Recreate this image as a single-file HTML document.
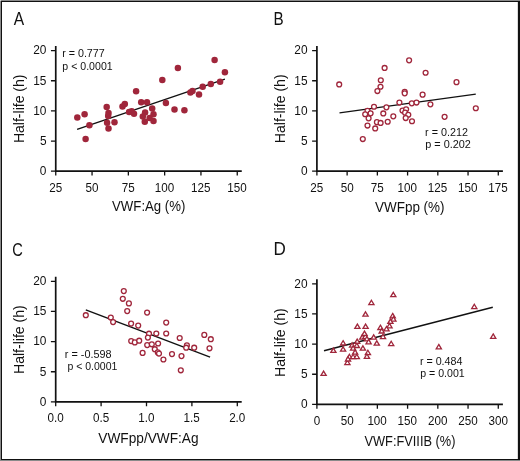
<!DOCTYPE html>
<html><head><meta charset="utf-8"><title>Half-life correlations</title>
<style>html,body{margin:0;padding:0;background:#fff;}body{width:520px;height:461px;overflow:hidden;}svg{display:block;will-change:transform;font-family:"Liberation Sans", sans-serif;}</style>
</head><body>
<svg width="520" height="461" viewBox="0 0 520 461">
<rect x="0" y="0" width="520" height="461" fill="#fff"/>
<g fill="#111"><text transform="matrix(0.86 0 0 1 13.7 24.5)" font-size="18.12">A</text><path d="M55.75 46V171.2H241.75" fill="none" stroke="#111" stroke-width="1.7"/><text transform="matrix(0.96 0 0 1 39.76 175)" font-size="12.4">0</text><text transform="matrix(0.96 0 0 1 39.88 144.85)" font-size="12.4">5</text><text transform="matrix(0.96 0 0 1 33.21 114.7)" font-size="12.4">10</text><text transform="matrix(0.96 0 0 1 33.21 84.55)" font-size="12.4">15</text><text transform="matrix(0.96 0 0 1 33.21 54.4)" font-size="12.4">20</text><text transform="matrix(0.94 0 0 1 49.22 191.7)" font-size="12.4">25</text><text transform="matrix(0.94 0 0 1 85.58 191.7)" font-size="12.4">50</text><text transform="matrix(0.94 0 0 1 121.82 191.7)" font-size="12.4">75</text><text transform="matrix(0.94 0 0 1 154.68 191.7)" font-size="12.4">100</text><text transform="matrix(0.94 0 0 1 190.98 191.7)" font-size="12.4">125</text><text transform="matrix(0.94 0 0 1 227.28 191.7)" font-size="12.4">150</text><path d="M50.95 171.2H55.75M50.95 141.05H55.75M50.95 110.9H55.75M50.95 80.75H55.75M50.95 50.6H55.75M55.75 171.2V175.6M92.05 171.2V175.6M128.35 171.2V175.6M164.65 171.2V175.6M200.95 171.2V175.6M237.25 171.2V175.6" fill="none" stroke="#111" stroke-width="1.3"/><text transform="matrix(0.93 0 0 1 112.07 211.4)" font-size="14.2">VWF:Ag (%)</text><text transform="matrix(0 -0.97 1 0 23.5 143.03)" font-size="14.45">Half-life (h)</text><text transform="matrix(0.95 0 0 1 62.15 56.5)" font-size="11.29">r = 0.777</text><text transform="matrix(0.95 0 0 1 62.36 69.5)" font-size="11.14">p &lt; 0.0001</text><line x1="77.1" y1="129.4" x2="224.9" y2="79.1" stroke="#111" stroke-width="1.4" stroke-linecap="butt"/></g>
<g fill="#111"><text transform="matrix(0.84 0 0 1 273.58 24.5)" font-size="18.12">B</text><path d="M316.9 46V171.2H502.9" fill="none" stroke="#111" stroke-width="1.7"/><text transform="matrix(0.96 0 0 1 300.91 175)" font-size="12.4">0</text><text transform="matrix(0.96 0 0 1 301.03 144.85)" font-size="12.4">5</text><text transform="matrix(0.96 0 0 1 294.36 114.7)" font-size="12.4">10</text><text transform="matrix(0.96 0 0 1 294.36 84.55)" font-size="12.4">15</text><text transform="matrix(0.96 0 0 1 294.36 54.4)" font-size="12.4">20</text><text transform="matrix(0.94 0 0 1 310.37 191.7)" font-size="12.4">25</text><text transform="matrix(0.94 0 0 1 340.66 191.7)" font-size="12.4">50</text><text transform="matrix(0.94 0 0 1 370.83 191.7)" font-size="12.4">75</text><text transform="matrix(0.94 0 0 1 397.62 191.7)" font-size="12.4">100</text><text transform="matrix(0.94 0 0 1 427.85 191.7)" font-size="12.4">125</text><text transform="matrix(0.94 0 0 1 458.08 191.7)" font-size="12.4">150</text><text transform="matrix(0.94 0 0 1 488.31 191.7)" font-size="12.4">175</text><path d="M312.1 171.2H316.9M312.1 141.05H316.9M312.1 110.9H316.9M312.1 80.75H316.9M312.1 50.6H316.9M316.9 171.2V175.6M347.13 171.2V175.6M377.36 171.2V175.6M407.59 171.2V175.6M437.82 171.2V175.6M468.05 171.2V175.6M498.28 171.2V175.6" fill="none" stroke="#111" stroke-width="1.3"/><text transform="matrix(0.93 0 0 1 374.97 211.5)" font-size="14.49">VWFpp (%)</text><text transform="matrix(0 -0.98 1 0 284.7 143.23)" font-size="14.38">Half-life (h)</text><text transform="matrix(0.98 0 0 1 425.09 135.9)" font-size="11">r = 0.212</text><text transform="matrix(1 0 0 1 425.24 147.6)" font-size="10.86">p = 0.202</text><line x1="339.5" y1="112.8" x2="475.8" y2="94.2" stroke="#111" stroke-width="1.25" stroke-linecap="butt"/></g>
<g fill="#111"><text transform="matrix(0.8 0 0 1 12.27 255.8)" font-size="18.29">C</text><path d="M55.7 276.7V401.9H241.7" fill="none" stroke="#111" stroke-width="1.7"/><text transform="matrix(0.96 0 0 1 39.71 405.7)" font-size="12.4">0</text><text transform="matrix(0.96 0 0 1 39.83 375.55)" font-size="12.4">5</text><text transform="matrix(0.96 0 0 1 33.16 345.4)" font-size="12.4">10</text><text transform="matrix(0.96 0 0 1 33.16 315.25)" font-size="12.4">15</text><text transform="matrix(0.96 0 0 1 33.16 285.1)" font-size="12.4">20</text><text transform="matrix(0.94 0 0 1 47.6 422.4)" font-size="12.4">0.0</text><text transform="matrix(0.94 0 0 1 93 422.4)" font-size="12.4">0.5</text><text transform="matrix(0.94 0 0 1 138.17 422.4)" font-size="12.4">1.0</text><text transform="matrix(0.94 0 0 1 183.57 422.4)" font-size="12.4">1.5</text><text transform="matrix(0.94 0 0 1 229.14 422.4)" font-size="12.4">2.0</text><path d="M50.9 401.9H55.7M50.9 371.75H55.7M50.9 341.6H55.7M50.9 311.45H55.7M50.9 281.3H55.7M55.7 401.9V406.3M101.1 401.9V406.3M146.5 401.9V406.3M191.9 401.9V406.3M237.3 401.9V406.3" fill="none" stroke="#111" stroke-width="1.3"/><text transform="matrix(0.96 0 0 1 98.36 442.7)" font-size="14.25">VWFpp/VWF:Ag</text><text transform="matrix(0 -0.98 1 0 23.5 374.03)" font-size="14.38">Half-life (h)</text><text transform="matrix(0.94 0 0 1 64.84 357.6)" font-size="11.57">r = -0.598</text><text transform="matrix(0.92 0 0 1 67.46 370)" font-size="11.43">p &lt; 0.0001</text><line x1="85.8" y1="309.9" x2="210.1" y2="357.1" stroke="#111" stroke-width="1.4" stroke-linecap="butt"/></g>
<g fill="#111"><text transform="matrix(0.95 0 0 1 273.43 255.4)" font-size="17.97">D</text><path d="M316.9 279.2V404.4H502.9" fill="none" stroke="#111" stroke-width="1.7"/><text transform="matrix(0.96 0 0 1 300.91 408.2)" font-size="12.4">0</text><text transform="matrix(0.96 0 0 1 301.03 378.05)" font-size="12.4">5</text><text transform="matrix(0.96 0 0 1 294.36 347.9)" font-size="12.4">10</text><text transform="matrix(0.96 0 0 1 294.36 317.75)" font-size="12.4">15</text><text transform="matrix(0.96 0 0 1 294.36 287.6)" font-size="12.4">20</text><text transform="matrix(0.94 0 0 1 313.64 424.9)" font-size="12.4">0</text><text transform="matrix(0.94 0 0 1 340.66 424.9)" font-size="12.4">50</text><text transform="matrix(0.94 0 0 1 367.39 424.9)" font-size="12.4">100</text><text transform="matrix(0.94 0 0 1 397.62 424.9)" font-size="12.4">150</text><text transform="matrix(0.94 0 0 1 428.03 424.9)" font-size="12.4">200</text><text transform="matrix(0.94 0 0 1 458.26 424.9)" font-size="12.4">250</text><text transform="matrix(0.94 0 0 1 488.55 424.9)" font-size="12.4">300</text><path d="M312.1 404.4H316.9M312.1 374.25H316.9M312.1 344.1H316.9M312.1 313.95H316.9M312.1 283.8H316.9M316.9 404.4V408.8M347.13 404.4V408.8M377.36 404.4V408.8M407.59 404.4V408.8M437.82 404.4V408.8M468.05 404.4V408.8M498.28 404.4V408.8" fill="none" stroke="#111" stroke-width="1.3"/><text transform="matrix(0.85 0 0 1 364.47 445.7)" font-size="15.07">VWF:FVIIIB (%)</text><text transform="matrix(0 -0.98 1 0 284.7 377.03)" font-size="14.38">Half-life (h)</text><text transform="matrix(1 0 0 1 419.9 364.8)" font-size="10.71">r = 0.484</text><text transform="matrix(1.03 0 0 1 420.26 376.8)" font-size="10.29">p = 0.001</text><line x1="324" y1="350.7" x2="492.8" y2="307.3" stroke="#111" stroke-width="1.4" stroke-linecap="butt"/></g>
<g fill="#a0263b"><circle cx="77.3" cy="117.5" r="3.25"/><circle cx="84.6" cy="114.3" r="3.25"/><circle cx="89.4" cy="125.2" r="3.25"/><circle cx="85.6" cy="139.1" r="3.25"/><circle cx="106.7" cy="106.9" r="3.25"/><circle cx="108.5" cy="112.9" r="3.25"/><circle cx="108.2" cy="116" r="3.25"/><circle cx="107.1" cy="122.7" r="3.25"/><circle cx="108.5" cy="128.5" r="3.25"/><circle cx="114.5" cy="122.3" r="3.25"/><circle cx="122.5" cy="106.5" r="3.25"/><circle cx="124.8" cy="104" r="3.25"/><circle cx="129.1" cy="112.1" r="3.25"/><circle cx="131.7" cy="111.2" r="3.25"/><circle cx="134" cy="113.8" r="3.25"/><circle cx="136.1" cy="91.3" r="3.25"/><circle cx="141.2" cy="102.3" r="3.25"/><circle cx="147" cy="102.3" r="3.25"/><circle cx="152.2" cy="108.5" r="3.25"/><circle cx="145.1" cy="112.4" r="3.25"/><circle cx="142.8" cy="116.6" r="3.25"/><circle cx="153.5" cy="114.3" r="3.25"/><circle cx="149.6" cy="117.9" r="3.25"/><circle cx="144.8" cy="121.8" r="3.25"/><circle cx="153.5" cy="121.1" r="3.25"/><circle cx="165.9" cy="102.9" r="3.25"/><circle cx="174.5" cy="109.6" r="3.25"/><circle cx="184.4" cy="110.2" r="3.25"/><circle cx="162.3" cy="80" r="3.25"/><circle cx="177.9" cy="67.9" r="3.25"/><circle cx="190.4" cy="92.5" r="3.25"/><circle cx="192.5" cy="91" r="3.25"/><circle cx="199" cy="94.5" r="3.25"/><circle cx="202.7" cy="86.7" r="3.25"/><circle cx="210.8" cy="84" r="3.25"/><circle cx="220.1" cy="81.7" r="3.25"/><circle cx="214.6" cy="60" r="3.25"/><circle cx="224.9" cy="72.2" r="3.25"/></g>
<g fill="#fff" stroke="#a0263b" stroke-width="1.3"><circle cx="339.2" cy="84.45" r="2.45"/><circle cx="384.6" cy="67.95" r="2.45"/><circle cx="380.8" cy="80.25" r="2.45"/><circle cx="380.5" cy="86.75" r="2.45"/><circle cx="377.4" cy="91.05" r="2.45"/><circle cx="374" cy="106.75" r="2.45"/><circle cx="386.4" cy="107.35" r="2.45"/><circle cx="399.4" cy="102.55" r="2.45"/><circle cx="411.8" cy="103.35" r="2.45"/><circle cx="416.5" cy="102.55" r="2.45"/><circle cx="367.5" cy="110.85" r="2.45"/><circle cx="365.2" cy="114.25" r="2.45"/><circle cx="370.6" cy="113.35" r="2.45"/><circle cx="368.6" cy="118.35" r="2.45"/><circle cx="383.3" cy="113.45" r="2.45"/><circle cx="393.3" cy="116.35" r="2.45"/><circle cx="402.5" cy="110.55" r="2.45"/><circle cx="406.1" cy="109.25" r="2.45"/><circle cx="405.1" cy="112.65" r="2.45"/><circle cx="408.3" cy="114.75" r="2.45"/><circle cx="405.7" cy="118.05" r="2.45"/><circle cx="412" cy="121.25" r="2.45"/><circle cx="376.9" cy="122.15" r="2.45"/><circle cx="380.6" cy="122.95" r="2.45"/><circle cx="387.7" cy="121.75" r="2.45"/><circle cx="367.5" cy="125.55" r="2.45"/><circle cx="375.2" cy="128.45" r="2.45"/><circle cx="362.8" cy="139.05" r="2.45"/><circle cx="409.1" cy="60.35" r="2.45"/><circle cx="425.6" cy="72.75" r="2.45"/><circle cx="456.5" cy="82.15" r="2.45"/><circle cx="404.7" cy="91.75" r="2.45"/><circle cx="404.7" cy="93.35" r="2.45"/><circle cx="422.6" cy="94.65" r="2.45"/><circle cx="430.4" cy="104.35" r="2.45"/><circle cx="444.6" cy="116.85" r="2.45"/><circle cx="475.8" cy="108.25" r="2.45"/></g>
<g fill="#fff" stroke="#a0263b" stroke-width="1.3"><circle cx="123.8" cy="291.1" r="2.45"/><circle cx="122.8" cy="298.8" r="2.45"/><circle cx="128.9" cy="303.4" r="2.45"/><circle cx="127.2" cy="311.1" r="2.45"/><circle cx="85.8" cy="315.2" r="2.45"/><circle cx="110.8" cy="317.5" r="2.45"/><circle cx="113.1" cy="322.1" r="2.45"/><circle cx="131.1" cy="323.6" r="2.45"/><circle cx="138.2" cy="325.6" r="2.45"/><circle cx="147.1" cy="312.6" r="2.45"/><circle cx="166.2" cy="322.6" r="2.45"/><circle cx="149" cy="333.7" r="2.45"/><circle cx="156.3" cy="333.5" r="2.45"/><circle cx="166.2" cy="333.5" r="2.45"/><circle cx="147.9" cy="337.6" r="2.45"/><circle cx="131.2" cy="341.1" r="2.45"/><circle cx="134.8" cy="342.4" r="2.45"/><circle cx="139.2" cy="340.7" r="2.45"/><circle cx="147.2" cy="345.1" r="2.45"/><circle cx="151.8" cy="344.3" r="2.45"/><circle cx="158.1" cy="343.5" r="2.45"/><circle cx="154.8" cy="349.2" r="2.45"/><circle cx="157.8" cy="352.4" r="2.45"/><circle cx="159" cy="353.6" r="2.45"/><circle cx="142.6" cy="352.9" r="2.45"/><circle cx="163.4" cy="359.5" r="2.45"/><circle cx="179.7" cy="338" r="2.45"/><circle cx="186.9" cy="345.4" r="2.45"/><circle cx="186.2" cy="347.7" r="2.45"/><circle cx="194.2" cy="347.7" r="2.45"/><circle cx="204.3" cy="334.9" r="2.45"/><circle cx="210.8" cy="339.2" r="2.45"/><circle cx="209.5" cy="348.3" r="2.45"/><circle cx="172" cy="354.1" r="2.45"/><circle cx="181.5" cy="356.1" r="2.45"/><circle cx="180.8" cy="370.3" r="2.45"/></g>
<g fill="#fff" stroke="#a0263b" stroke-width="1.3" stroke-linejoin="miter"><path d="M323.6 371.05L326.2 375.4L321 375.4Z"/><path d="M333.4 348.05L336 352.4L330.8 352.4Z"/><path d="M343.1 340.65L345.7 345L340.5 345Z"/><path d="M343.1 346.85L345.7 351.2L340.5 351.2Z"/><path d="M352.1 342.85L354.7 347.2L349.5 347.2Z"/><path d="M357.2 339.05L359.8 343.4L354.6 343.4Z"/><path d="M356.8 343.15L359.4 347.5L354.2 347.5Z"/><path d="M353.1 345.85L355.7 350.2L350.5 350.2Z"/><path d="M362.3 334.85L364.9 339.2L359.7 339.2Z"/><path d="M365.3 334.35L367.9 338.7L362.7 338.7Z"/><path d="M366.9 336.45L369.5 340.8L364.3 340.8Z"/><path d="M368.6 339.45L371.2 343.8L366 343.8Z"/><path d="M364.5 331.05L367.1 335.4L361.9 335.4Z"/><path d="M373.7 334.85L376.3 339.2L371.1 339.2Z"/><path d="M376.8 340.85L379.4 345.2L374.2 345.2Z"/><path d="M362.9 345.85L365.5 350.2L360.3 350.2Z"/><path d="M355.1 349.85L357.7 354.2L352.5 354.2Z"/><path d="M349.4 354.25L352 358.6L346.8 358.6Z"/><path d="M353.1 354.25L355.7 358.6L350.5 358.6Z"/><path d="M356.8 354.25L359.4 358.6L354.2 358.6Z"/><path d="M367.9 350.25L370.5 354.6L365.3 354.6Z"/><path d="M366.9 353.95L369.5 358.3L364.3 358.3Z"/><path d="M347.4 360.25L350 364.6L344.8 364.6Z"/><path d="M348 356.65L350.6 361L345.4 361Z"/><path d="M357.4 324.05L360 328.4L354.8 328.4Z"/><path d="M365.6 324.05L368.2 328.4L363 328.4Z"/><path d="M371.4 300.25L374 304.6L368.8 304.6Z"/><path d="M365.5 311.85L368.1 316.2L362.9 316.2Z"/><path d="M393.3 292.35L395.9 296.7L390.7 296.7Z"/><path d="M392.7 313.45L395.3 317.8L390.1 317.8Z"/><path d="M393.4 316.75L396 321.1L390.8 321.1Z"/><path d="M390.4 319.05L393 323.4L387.8 323.4Z"/><path d="M389.5 323.45L392.1 327.8L386.9 327.8Z"/><path d="M386.5 326.45L389.1 330.8L383.9 330.8Z"/><path d="M380.4 325.15L383 329.5L377.8 329.5Z"/><path d="M381.7 328.65L384.3 333L379.1 333Z"/><path d="M383 334.25L385.6 338.6L380.4 338.6Z"/><path d="M391.2 341.25L393.8 345.6L388.6 345.6Z"/><path d="M438.8 344.45L441.4 348.8L436.2 348.8Z"/><path d="M474.3 304.25L476.9 308.6L471.7 308.6Z"/><path d="M493.2 333.95L495.8 338.3L490.6 338.3Z"/></g>
<rect x="0" y="0" width="520" height="1" fill="#8a8a8a"/>
<rect x="0" y="0" width="1" height="461" fill="#8a8a8a"/>
<rect x="0" y="460" width="520" height="1" fill="#8a8a8a"/>
<rect x="1" y="1" width="519" height="1" fill="#111"/>
<rect x="1" y="1" width="1" height="459" fill="#111"/>
<rect x="1" y="459" width="519" height="1" fill="#111"/>
<rect x="518" y="1" width="2" height="459" fill="#111"/>
<rect x="0" y="0" width="1" height="1" fill="#cfcfcf"/>
<rect x="517" y="2" width="1" height="457" fill="#dcdcdc"/>
</svg>
</body></html>
